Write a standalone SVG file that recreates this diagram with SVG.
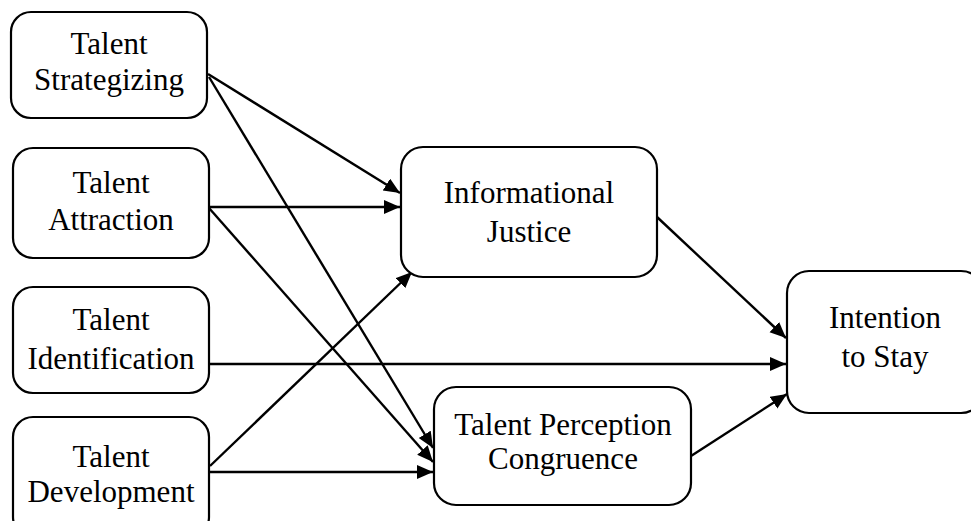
<svg xmlns="http://www.w3.org/2000/svg" width="971" height="521" viewBox="0 0 971 521">
  <style>
    .box { fill: #ffffff; stroke: #000000; stroke-width: 2.2; }
    .lbl { font-family: 'Liberation Serif', 'Times New Roman', Times, serif; font-size: 31px; fill: #000000; text-anchor: middle; }
    .edge { fill: none; stroke: #000000; stroke-width: 2.4; marker-end: url(#arrow); }
  </style>
  <defs>
    <marker id="arrow" markerUnits="userSpaceOnUse" markerWidth="17" markerHeight="15" refX="16" refY="7" orient="auto">
      <path d="M0,0 L16,7 L0,14 Z" fill="#000000"/>
    </marker>
  </defs>
  <rect width="971" height="521" fill="#ffffff"/>

  <!-- connectors -->
  <g id="connectors">
    <line class="edge" x1="208" y1="74" x2="400" y2="193"/>
    <line class="edge" x1="209" y1="77" x2="433" y2="448"/>
    <line class="edge" x1="209" y1="207" x2="400" y2="207"/>
    <line class="edge" x1="209" y1="208" x2="433" y2="462"/>
    <line class="edge" x1="209" y1="364" x2="786" y2="364"/>
    <line class="edge" x1="210" y1="466" x2="412" y2="272"/>
    <line class="edge" x1="210" y1="472" x2="433" y2="472"/>
    <line class="edge" x1="657" y1="217" x2="786" y2="338"/>
    <line class="edge" x1="691" y1="456" x2="787" y2="394"/>
  </g>

  <g id="talent-strategizing">
    <rect class="box" x="11" y="12" width="196" height="106" rx="20" ry="20"/>
    <text class="lbl" x="109" y="54">Talent</text>
    <text class="lbl" x="109" y="90">Strategizing</text>
  </g>

  <g id="talent-attraction">
    <rect class="box" x="13" y="148" width="196" height="110" rx="20" ry="20"/>
    <text class="lbl" x="111" y="193">Talent</text>
    <text class="lbl" x="111" y="230">Attraction</text>
  </g>

  <g id="talent-identification">
    <rect class="box" x="13" y="287" width="196" height="106" rx="20" ry="20"/>
    <text class="lbl" x="111" y="330">Talent</text>
    <text class="lbl" x="111" y="369">Identification</text>
  </g>

  <g id="talent-development">
    <rect class="box" x="13" y="417" width="196" height="120" rx="20" ry="20"/>
    <text class="lbl" x="111" y="467">Talent</text>
    <text class="lbl" x="111" y="502">Development</text>
  </g>

  <g id="informational-justice">
    <rect class="box" x="401" y="147" width="256" height="130" rx="22" ry="22"/>
    <text class="lbl" x="529" y="203">Informational</text>
    <text class="lbl" x="529" y="242">Justice</text>
  </g>

  <g id="talent-perception-congruence">
    <rect class="box" x="434" y="387" width="257" height="118" rx="22" ry="22"/>
    <text class="lbl" x="563" y="435">Talent Perception</text>
    <text class="lbl" x="563" y="469">Congruence</text>
  </g>

  <g id="intention-to-stay">
    <rect class="box" x="787" y="271" width="196" height="142" rx="22" ry="22"/>
    <text class="lbl" x="885" y="328">Intention</text>
    <text class="lbl" x="885" y="367">to Stay</text>
  </g>
</svg>
